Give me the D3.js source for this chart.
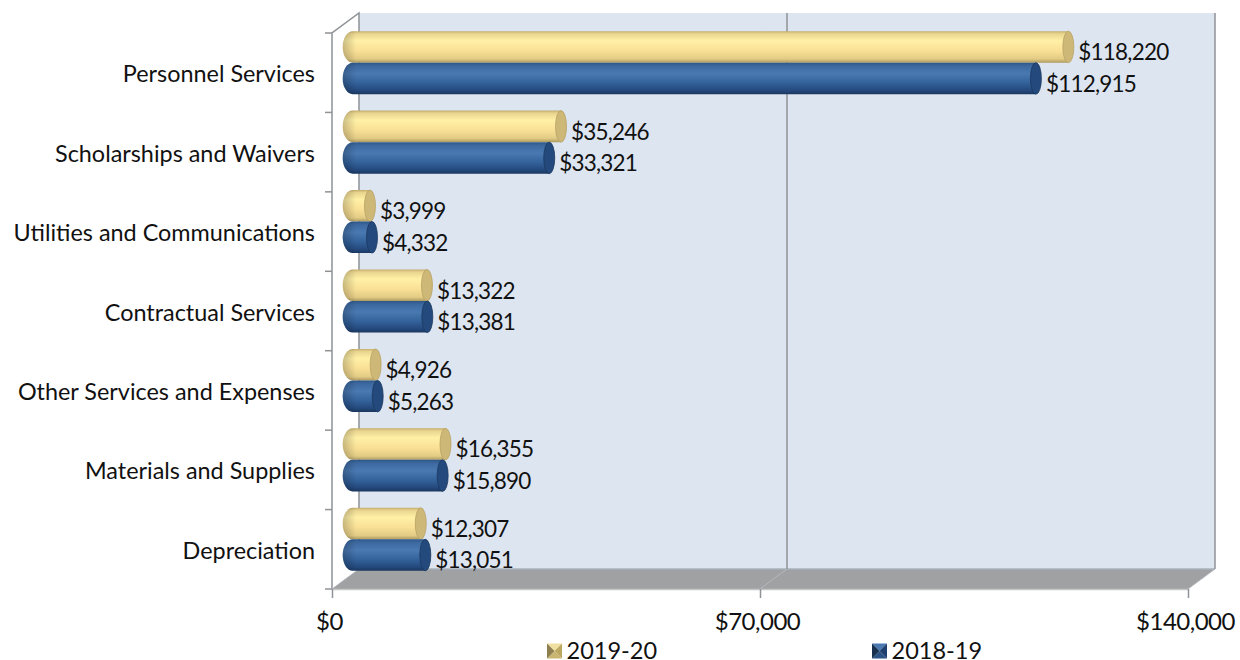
<!DOCTYPE html>
<html>
<head>
<meta charset="utf-8">
<script src="https://cdnjs.cloudflare.com/ajax/libs/d3/7.8.5/d3.min.js"></script>
<style>
  html, body { margin: 0; padding: 0; background: #fff; }
  svg { display: block; }
  text { font-family: Lato, "Open Sans", sans-serif; fill: #111; }
</style>
</head>
<body>
<svg width="1240" height="660"></svg>
<script>
const categories = ['Personnel Services', 'Scholarships and Waivers', 'Utilities and Communications',
    'Contractual Services', 'Other Services and Expenses', 'Materials and Supplies', 'Depreciation']
const seriesNames = ['2019-20', '2018-19']
const values1920 = [118220, 35246, 3999, 13322, 4926, 16355, 12307]
const values1819 = [112915, 33321, 4332, 13381, 5263, 15890, 13051]
const xTicks = [0, 70000, 140000]

const svg = d3.select('svg')
const defs = svg.append('defs')

// front plane of the box, the back wall sits depthX/depthY away
const plotLeft = 332, plotRight = 1188, plotTop = 33, plotBottom = 589
const depthX = 27, depthY = 20

const x = d3.scaleLinear().domain([0, 140000]).range([plotLeft, plotRight])
const y = d3.scaleBand().domain(categories).range([plotTop, plotBottom])
const inner = d3.scaleBand().domain(seriesNames).range([0, y.bandwidth()]).paddingOuter(0.26).paddingInner(0)

function gradient(id, stops) {
    const g = defs.append('linearGradient').attr('id', id)
        .attr('x1', 0).attr('x2', 0).attr('y1', 0).attr('y2', 1)
    stops.forEach(s => g.append('stop').attr('offset', s[0]).attr('stop-color', s[1]))
}
gradient('barYellow', [[0, '#c4ad6c'], [0.08, '#e8d48e'], [0.3, '#fff0a6'], [0.62, '#f9e096'], [0.88, '#e2cb84'], [1, '#ad9a60']])
gradient('barBlue', [[0, '#2f5788'], [0.1, '#3c689f'], [0.35, '#4a79b2'], [0.65, '#33619a'], [0.88, '#24497d'], [1, '#1a375e']])

// darkening towards the rounded left end of the bars
const noseShade = defs.append('linearGradient').attr('id', 'noseShade')
    .attr('gradientUnits', 'userSpaceOnUse').attr('x1', 342).attr('x2', 356).attr('y1', 0).attr('y2', 0)
noseShade.append('stop').attr('offset', 0).attr('stop-color', '#000').attr('stop-opacity', 0.22)
noseShade.append('stop').attr('offset', 1).attr('stop-color', '#000').attr('stop-opacity', 0)

const wallColor = '#dde5f0', edgeColor = '#8f9296', floorColor = '#a0a1a3', paleEdge = '#b4b8be'

// back wall
svg.append('rect').attr('x', plotLeft + depthX).attr('y', plotTop - depthY)
    .attr('width', plotRight - plotLeft).attr('height', plotBottom - plotTop)
    .attr('fill', wallColor)

// floor
const floor = [[plotLeft, plotBottom], [plotRight, plotBottom], [plotRight + depthX, plotBottom - depthY], [plotLeft + depthX, plotBottom - depthY]]
svg.append('path').attr('d', d3.line()(floor) + 'Z').attr('fill', floorColor)
svg.append('line').attr('x1', plotLeft).attr('x2', plotRight).attr('y1', plotBottom + 0.5).attr('y2', plotBottom + 0.5)
    .attr('stroke', '#c4c5c7').attr('stroke-width', 1.5)
svg.append('line').attr('x1', plotLeft + depthX).attr('x2', plotRight + depthX)
    .attr('y1', plotBottom - depthY).attr('y2', plotBottom - depthY)
    .attr('stroke', '#a9b0bb').attr('stroke-width', 1.5)

// gridlines on the wall, paler where they cross the floor
const grid = svg.append('g').selectAll('g').data(xTicks.slice(1)).enter().append('g')
grid.append('line')
    .attr('x1', d => x(d) + depthX).attr('x2', d => x(d) + depthX)
    .attr('y1', plotTop - depthY).attr('y2', plotBottom - depthY)
    .attr('stroke', edgeColor).attr('stroke-width', 1.5)
grid.append('line')
    .attr('x1', d => x(d) + depthX).attr('x2', d => x(d))
    .attr('y1', plotBottom - depthY).attr('y2', plotBottom)
    .attr('stroke', paleEdge).attr('stroke-width', 1)

// left wall edges
svg.append('path')
    .attr('d', d3.line()([[plotLeft, plotBottom], [plotLeft, plotTop], [plotLeft + depthX, plotTop - depthY], [plotLeft + depthX, plotBottom - depthY]]))
    .attr('fill', 'none').attr('stroke', edgeColor).attr('stroke-width', 1.5)
svg.append('line')
    .attr('x1', plotLeft + depthX).attr('y1', plotBottom - depthY).attr('x2', plotLeft).attr('y2', plotBottom)
    .attr('stroke', paleEdge).attr('stroke-width', 1)

// category ticks sit on the band edges
const yEdges = categories.map(c => y(c)).concat([plotBottom])
svg.append('g').selectAll('line').data(yEdges).enter().append('line')
    .attr('x1', plotLeft - 7).attr('x2', plotLeft).attr('y1', d => d).attr('y2', d => d)
    .attr('stroke', edgeColor).attr('stroke-width', 1.5)

const yAxis = svg.append('g').attr('transform', `translate(${plotLeft - 17},2)`)
    .call(d3.axisLeft(y).tickSize(0).tickPadding(0))
yAxis.select('.domain').remove()
yAxis.attr('font-family', null)
yAxis.selectAll('text').style('font-size', '23.4px')

const xAxis = svg.append('g').attr('transform', `translate(0,${plotBottom})`)
    .call(d3.axisBottom(x).tickValues(xTicks).tickSize(9).tickPadding(0).tickFormat(d3.format('$,')))
xAxis.select('.domain').remove()
xAxis.attr('font-family', null)
xAxis.selectAll('line').attr('stroke', edgeColor).attr('stroke-width', 1.5)
xAxis.selectAll('text').style('font-size', '24px').style('letter-spacing', '-0.5px')
    .attr('dx', -3).attr('y', 24).attr('dy', '0.72em')

// bars stand half way into the box
const midX = depthX / 2, midY = -depthY / 2
const capRx = 5.5, noseRx = 10, noseIn = 2.8

const rows = []
categories.forEach((c, i) => {
    rows.push({ cat: c, name: seriesNames[0], value: values1920[i], fill: 'url(#barYellow)', cap: '#cdb877', capEdge: '#b8a265' })
    rows.push({ cat: c, name: seriesNames[1], value: values1819[i], fill: 'url(#barBlue)', cap: '#24497c', capEdge: '#1b3860' })
})

const bars = svg.append('g').selectAll('g').data(rows).enter().append('g')
    .attr('transform', d => `translate(0,${y(d.cat) + inner(d.name) + midY})`)

const h = inner.bandwidth()
const barShape = d => {
    const x0 = x(0) + midX - noseIn, x1 = x(d.value) + midX
    return `M${x0 + noseRx},0 L${x1},0 L${x1},${h} L${x0 + noseRx},${h} ` +
        `A${noseRx},${h / 2} 0 0 1 ${x0 + noseRx},0 Z`
}
bars.append('path').attr('d', barShape).attr('fill', d => d.fill)
bars.append('path').attr('d', barShape).attr('fill', 'url(#noseShade)')

bars.append('ellipse')
    .attr('cx', d => x(d.value) + midX)
    .attr('cy', h / 2)
    .attr('rx', capRx)
    .attr('ry', h / 2)
    .attr('fill', d => d.cap)
    .attr('stroke', d => d.capEdge)
    .attr('stroke-width', 0.8)

bars.append('text')
    .attr('x', d => x(d.value) + midX + capRx + 4.5)
    .attr('y', h / 2 + 5.5)
    .attr('dy', '0.35em')
    .style('font-size', '22.5px')
    .style('letter-spacing', '-0.8px')
    .text(d => d3.format('$,')(d.value))

// legend
const legendX = d3.scaleOrdinal().domain(seriesNames).range([547, 872])
const swatchColors = {
    '2019-20': ['#efe0a0', '#bda862', '#c9b472', '#8f7f4e'],
    '2018-19': ['#4a78b0', '#1f3f6c', '#2b5284', '#17304f']
}
const sw = 15
const legend = svg.append('g').selectAll('g').data(seriesNames).enter().append('g')
    .attr('transform', d => `translate(${legendX(d)},643.5)`)
legend.each(function (d) {
    const g = d3.select(this)
    const c = swatchColors[d]
    const corner = [[0, 0], [sw, 0], [sw, sw], [0, sw]]
    corner.forEach((p, i) => {
        g.append('path')
            .attr('d', d3.line()([p, corner[(i + 1) % 4], [sw / 2, sw / 2]]) + 'Z')
            .attr('fill', c[i])
    })
})
legend.append('text')
    .attr('x', sw + 4.5)
    .attr('y', sw / 2)
    .attr('dy', '0.33em')
    .style('font-size', '23.5px')
    .text(d => d)
</script>
</body>
</html>
